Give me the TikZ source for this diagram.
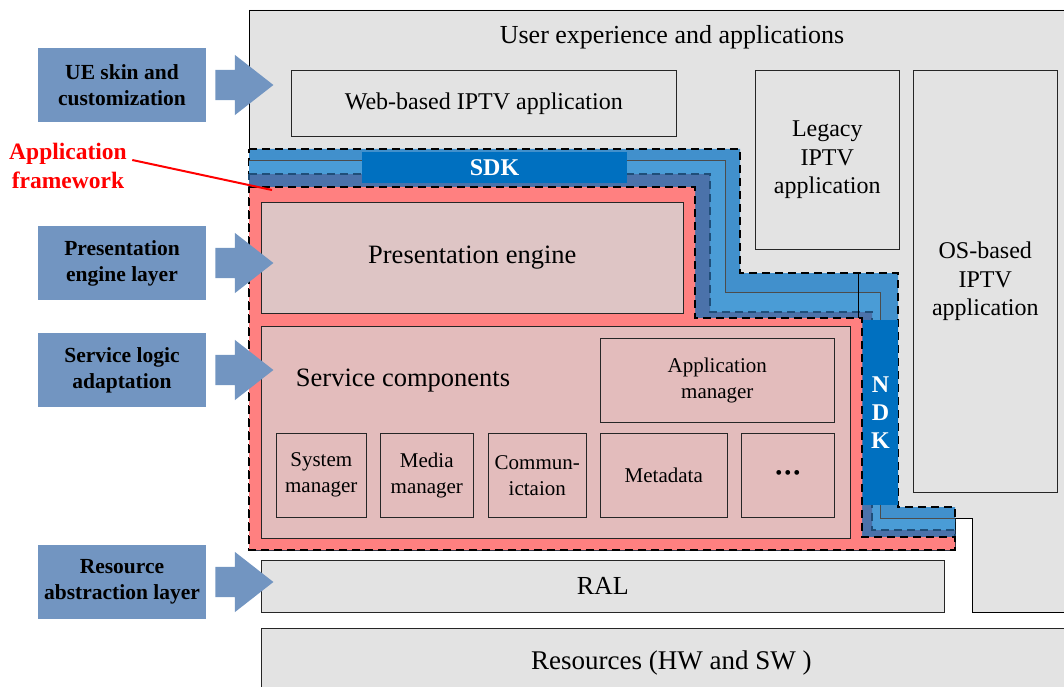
\documentclass[tikz,border=0pt]{standalone}
\usepackage{fontspec}
\setmainfont{Liberation Serif}
\usetikzlibrary{shapes.arrows,positioning}

\definecolor{uegrey}{HTML}{E3E3E3}
\definecolor{layerblue}{HTML}{7295C1}
\definecolor{sdkouter}{HTML}{4190CC}
\definecolor{sdkinner}{HTML}{4A9CD6}
\definecolor{sdkslate}{HTML}{4B72AA}
\definecolor{sdkdark}{HTML}{0070C0}
\definecolor{dashblue}{HTML}{1F4E79}
\definecolor{framered}{HTML}{FF8080}
\definecolor{pengine}{HTML}{DEC5C5}
\definecolor{svccomp}{HTML}{E3BCBC}

\begin{document}
\begin{tikzpicture}[x=1pt, y=-1pt,
  greybox/.style={draw=black!85, fill=uegrey, line width=0.6pt, align=center,
    inner sep=0pt, anchor=north west, font=\fontsize{24}{28.5}\selectfont},
  pinkbox/.style={draw=black!85, line width=0.6pt, align=center, inner sep=0pt,
    anchor=north west, font=\fontsize{26.5}{30}\selectfont},
  subbox/.style={pinkbox, fill=svccomp, minimum height=84pt,
    font=\fontsize{21}{26}\selectfont},
  layerbox/.style={fill=layerblue, minimum width=168pt, minimum height=74pt,
    align=center, font=\bfseries\fontsize{21.5}{26}\selectfont},
  layerarrow/.style={single arrow, fill=layerblue, inner sep=0pt, inner ysep=15pt,
    minimum height=58pt, single arrow head extend=15pt,
    single arrow tip angle=76, single arrow head indent=0pt},
  kitbox/.style={fill=sdkdark, text=white, inner sep=0pt,
    font=\bfseries\fontsize{24}{28}\selectfont},
  dashband/.style={draw=black, line width=1.5pt, dash pattern=on 8pt off 5pt}]

  \useasboundingbox (0,0) rectangle (1064,687);

  % User experience area
  \draw[fill=uegrey, line width=0.6pt] (249,10) -- (1070,10) -- (1070,612) -- (972,612)
    -- (972,518) -- (955,518) -- (955,550) -- (249,550) -- cycle;
  \node[font=\fontsize{26}{30}\selectfont] (uxtitle) at (672,37) {User experience and applications};

  % Applications
  \node[greybox, minimum width=385pt, minimum height=66pt] (webapp) at (291,70) {Web-based IPTV application};
  \node[greybox, minimum width=144pt, minimum height=179pt] (legacy) at (755,70) {Legacy\\IPTV\\application};
  \node[greybox, minimum width=144pt, minimum height=422pt] (osapp) at (913,70) {OS-based\\IPTV\\application};

  % SDK / NDK bands
  \draw[dashband, fill=sdkouter] (249,149) -- (740,149) -- (740,273) -- (898,273) -- (898,507)
    -- (955,507) -- (955,550) -- (249,550) -- cycle;
  \fill[sdkinner] (249,160) -- (725,160) -- (725,292) -- (880,292) -- (880,518)
    -- (955,518) -- (955,550) -- (249,550) -- cycle;
  \draw[black!70, line width=0.6pt] (249,160) -- (725,160) -- (725,292) -- (880,292)
    -- (880,518) -- (955,518);
  \draw[dashband, draw=dashblue, fill=sdkslate] (249,174) -- (710,174) -- (710,312) -- (872,312)
    -- (872,530) -- (955,530) -- (955,550) -- (249,550) -- cycle;
  \draw[line width=0.6pt] (858,273) -- (858,318);

  % Application framework
  \draw[dashband, fill=framered] (249,187) -- (695,187) -- (695,318) -- (862,318) -- (862,537)
    -- (955,537) -- (955,550) -- (249,550) -- cycle;

  \node[kitbox, minimum width=265pt, minimum height=31pt] (sdk) at (494.5,167.5) {SDK};
  \node[kitbox, minimum width=35pt, minimum height=185pt, align=center] (ndk) at (880.5,412.5) {N\\D\\K};

  % Presentation engine
  \node[pinkbox, fill=pengine, minimum width=422pt, minimum height=111pt] (peng) at (261,202) {Presentation engine};

  % Service components
  \node[pinkbox, fill=svccomp, minimum width=589pt, minimum height=212pt] (svc) at (261,326) {};
  \node[font=\fontsize{26.5}{30}\selectfont] (svctitle) at (403,381) {Service components};
  \node[subbox, minimum width=234pt] (appmgr) at (600,338) {Application\\manager};
  \foreach \nm/\xl/\bw/\lbl in {sysmgr/276/90/{System\\manager}, medmgr/380/93/{Media\\manager},
      commun/488/98/{Commun-\\ictaion}, metadata/600/127/{Metadata},
      more/741/93/{{\fontsize{20}{20}\selectfont •\kern2pt•\kern2pt•}}} {
    \node[subbox, minimum width=\bw pt] (\nm) at (\xl,433) {\lbl};
  }

  % RAL and resources
  \node[greybox, minimum width=683pt, minimum height=52pt, font=\fontsize{26}{30}\selectfont] (ral) at (261,560) {RAL};
  \node[greybox, minimum width=820pt, minimum height=70pt, font=\fontsize{27}{30}\selectfont] (res) at (261,628) {Resources (HW and SW )};

  % Layers on the left
  \foreach \nm/\yc/\lbl in {ueskin/85/{UE skin and\\customization}, pelayer/263/{Presentation\\engine layer},
      sladapt/370/{Service logic\\adaptation}, ralayer/582/{Resource\\abstraction layer}} {
    \node[layerbox] (\nm) at (122,\yc) {\lbl};
    \node[layerarrow, right=9pt of \nm] (\nm-arrow) {};
  }

  % Application framework label
  \node[text=red, align=center, font=\bfseries\fontsize{23.5}{29}\selectfont] (appfw) at (68,166) {Application\\framework};
  \coordinate (fwtip) at (272,190);
  \draw[red, line width=2pt] ([xshift=2pt,yshift=6pt]appfw.east) -- (fwtip);
\end{tikzpicture}
\end{document}
